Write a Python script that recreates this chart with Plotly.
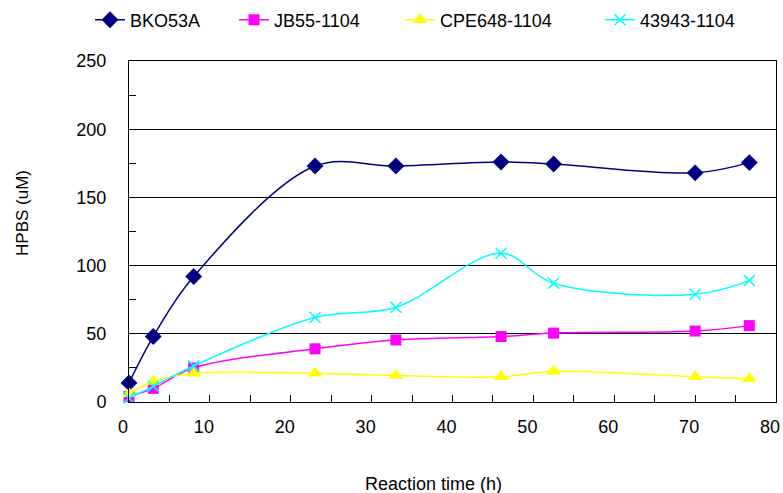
import plotly.graph_objects as go

# Sampling times (h)
hours = [0, 3, 8, 23, 33, 46, 52.5, 70, 76.7]

# HPBS concentration (uM) per strain
bko53a = [14, 48, 92, 173, 173, 176, 174.5, 168, 175.5]
jb55_1104 = [4, 10, 25, 39, 45.5, 48, 50.5, 52, 56]
cpe648_1104 = [6, 15, 21, 21, 19.5, 18.5, 22.5, 18.5, 17]
s43943_1104 = [3, 11.5, 26.5, 62, 69.5, 109, 87, 79, 89]

# name, values, colour, marker symbol, marker size, legend id, legend left edge (px)
series = [
    ("BKO53A", bko53a, "#000080", "diamond", 13, "legend", 90),
    ("JB55-1104", jb55_1104, "#FF00FF", "square", 11, "legend2", 234),
    ("CPE648-1104", cpe648_1104, "#FFFF00", "triangle-up", 13, "legend3", 400),
    ("43943-1104", s43943_1104, "#00FFFF", "x-thin", 11, "legend4", 600),
]

font_family = "Liberation Sans, Arial, sans-serif"
W, H = 783, 493

fig = go.Figure()
legends = {}
for name, vals, color, symbol, size, leg, leg_x in series:
    marker = dict(symbol=symbol, size=size, color=color)
    if symbol == "x-thin":
        marker["line"] = dict(color=color, width=1.5)
    fig.add_trace(go.Scatter(
        x=hours, y=vals, name=name, mode="lines+markers", legend=leg,
        line=dict(color=color, width=1.5, shape="spline", smoothing=1),
        marker=marker, cliponaxis=False,
    ))
    legends[leg] = dict(
        orientation="h", x=leg_x / W, xanchor="left",
        y=1 - 20 / H, yanchor="middle",
        xref="container", yref="container",
        font=dict(family=font_family, size=18),
        bgcolor="rgba(0,0,0,0)",
    )

axis_common = dict(
    showline=True, linecolor="black", linewidth=1, mirror=True,
    ticks="inside", ticklen=7, tickcolor="black", tickwidth=1,
    zeroline=False, fixedrange=True, automargin=False,
    ticklabeloverflow="allow",
    tickfont=dict(family=font_family, size=18, color="black"),
)

fig.update_layout(
    width=W, height=H,
    margin=dict(l=129, r=7, t=61, b=91, autoexpand=False),
    paper_bgcolor="white", plot_bgcolor="white",
    font=dict(family=font_family, size=18, color="black"),
    showlegend=True,
    xaxis=dict(range=[0, 80], dtick=10, showgrid=False,
               minor=dict(ticks="inside", ticklen=7, dtick=5, tickcolor="black"),
               ticklabelstandoff=8, ticklabelshift=-6, **axis_common),
    yaxis=dict(range=[0, 250], dtick=50, showgrid=True, gridcolor="black", gridwidth=1,
               minor=dict(ticks="inside", ticklen=7, dtick=25, tickcolor="black"),
               ticklabelstandoff=18, **axis_common),
    annotations=[
        dict(text="Reaction time (h)", xref="paper", yref="paper", x=0.47, y=-0.24,
             showarrow=False, xanchor="center", yanchor="middle",
             font=dict(family=font_family, size=18)),
        dict(text="HPBS (uM)", xref="paper", yref="paper", x=-0.165, y=0.555,
             textangle=-90, showarrow=False, xanchor="center", yanchor="middle",
             font=dict(family=font_family, size=17)),
    ],
    **legends,
)

fig.write_html("out.html")
